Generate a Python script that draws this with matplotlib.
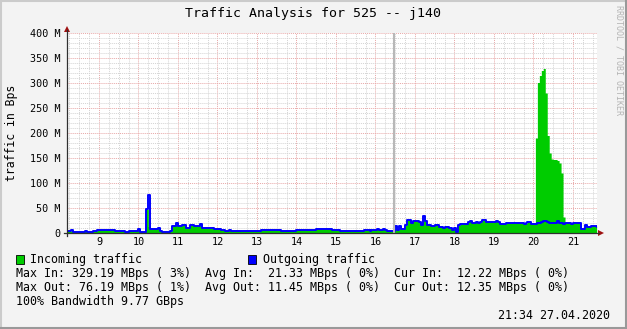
import numpy as np
import matplotlib
matplotlib.use("Agg")
import matplotlib.pyplot as plt
from matplotlib.patches import Rectangle, Polygon
from matplotlib.lines import Line2D

# ---------------- data ----------------
title = "Traffic Analysis for 525 -- j140"
y_label = "traffic in Bps"
watermark = "RRDTOOL / TOBI OETIKER"
timestamp = "21:34 27.04.2020"

hour_start = 8.2          # first sample (hour of day)
hour_step = 0.05          # sample spacing in hours
vrule_hour = 16.48        # grey vertical rule

x_ticks = [9, 10, 11, 12, 13, 14, 15, 16, 17, 18, 19, 20, 21]
x_tick_labels = [str(h) for h in x_ticks]
y_ticks = [0, 50, 100, 150, 200, 250, 300, 350, 400]
y_tick_labels = ["0", "50 M", "100 M", "150 M", "200 M", "250 M", "300 M", "350 M", "400 M"]

# outgoing traffic, MBps
out_mbps = [
    4, 4, 6, 3, 3, 3, 3, 3, 3, 4,
    3, 3, 3, 4, 4, 6, 6, 6, 6, 6,
    6, 6, 7, 6, 4, 4, 4, 4, 4, 2,
    2, 5, 5, 5, 5, 5, 8, 3, 3, 3,
    48, 76, 8, 9, 9, 9, 11, 4, 2, 2,
    3, 3, 4, 15, 15, 21, 14, 14, 17, 17,
    11, 11, 16, 16, 14, 14, 14, 18, 11, 11,
    11, 10, 10, 10, 9, 9, 9, 8, 6, 6,
    5, 5, 7, 5, 5, 5, 5, 5, 5, 5,
    5, 5, 4, 5, 5, 5, 5, 5, 6, 6,
    6, 6, 6, 6, 6, 6, 6, 7, 5, 5,
    5, 5, 5, 5, 5, 5, 6, 7, 6, 6,
    6, 6, 6, 6, 6, 7, 8, 8, 8, 8,
    8, 8, 8, 8, 6, 6, 6, 6, 4, 4,
    4, 4, 4, 4, 4, 5, 4, 4, 4, 4,
    6, 6, 6, 5, 6, 7, 7, 8, 7, 7,
    8, 7, 5, 5, 5, 5, 14, 6, 14, 9,
    9, 16, 27, 27, 21, 25, 25, 25, 23, 17,
    34, 24, 17, 17, 14, 14, 17, 17, 13, 13,
    11, 13, 13, 10, 10, 7, 11, 3, 16, 18,
    18, 19, 19, 23, 24, 21, 21, 22, 21, 22,
    27, 26, 22, 23, 23, 22, 23, 24, 22, 18,
    19, 18, 21, 21, 20, 21, 20, 21, 21, 20,
    21, 19, 20, 22, 22, 18, 18, 19, 21, 21,
    22, 24, 24, 23, 21, 21, 21, 21, 24, 21,
    21, 19, 21, 21, 21, 19, 21, 21, 21, 21,
    9, 9, 16, 13, 13, 15, 15, 14, 12,
]

# incoming traffic, MBps
in_mbps = [
    4, 4, 6, 3, 3, 3, 3, 3, 3, 4,
    3, 3, 3, 4, 4, 6, 6, 6, 6, 6,
    6, 6, 7, 6, 4, 4, 4, 4, 4, 2,
    2, 5, 5, 5, 5, 5, 8, 3, 3, 3,
    47, 13, 8, 9, 9, 9, 11, 4, 2, 2,
    3, 3, 4, 15, 15, 21, 14, 14, 17, 17,
    11, 11, 16, 16, 14, 14, 14, 18, 11, 11,
    11, 10, 10, 10, 9, 9, 9, 8, 6, 6,
    5, 5, 7, 5, 5, 5, 5, 5, 5, 5,
    5, 5, 4, 5, 5, 5, 5, 5, 6, 6,
    6, 6, 6, 6, 6, 6, 6, 7, 5, 5,
    5, 5, 5, 5, 5, 5, 6, 7, 6, 6,
    6, 6, 6, 6, 6, 7, 8, 8, 8, 8,
    8, 8, 8, 8, 6, 6, 6, 6, 4, 4,
    4, 4, 4, 4, 4, 5, 4, 4, 4, 4,
    6, 6, 6, 5, 6, 7, 7, 8, 7, 7,
    8, 7, 5, 5, 5, 5, 14, 6, 14, 9,
    9, 16, 27, 27, 21, 25, 25, 25, 23, 17,
    34, 24, 17, 17, 14, 14, 17, 17, 13, 13,
    11, 13, 13, 10, 10, 7, 11, 3, 16, 18,
    18, 19, 19, 23, 24, 21, 21, 22, 21, 22,
    27, 26, 22, 23, 23, 22, 23, 24, 22, 18,
    19, 18, 21, 21, 20, 21, 20, 21, 21, 20,
    21, 19, 20, 22, 22, 18, 18, 190, 301, 315,
    325, 329, 280, 195, 160, 148, 147, 147, 145, 140,
    120, 32, 21, 21, 21, 19, 21, 21, 21, 21,
    9, 9, 16, 13, 13, 15, 15, 14, 12,
]

legend_labels = ["Incoming traffic", "Outgoing traffic"]
stats_in = ["Max In: 329.19 MBps ( 3%)", "Avg In:  21.33 MBps ( 0%)", "Cur In:  12.22 MBps ( 0%)"]
stats_out = ["Max Out: 76.19 MBps ( 1%)", "Avg Out: 11.45 MBps ( 0%)", "Cur Out: 12.35 MBps ( 0%)"]
bandwidth_text = "100% Bandwidth 9.77 GBps"

# ---------------- style ----------------
GREEN = "#00cc00"
BLUE = "#0000ff"
BG = "#f3f3f3"
MONO = "DejaVu Sans Mono"

W, H = 627, 329
fig = plt.figure(figsize=(W / 100, H / 100), dpi=100, facecolor=BG)


def fx(px):
    return px / W


def fy(py):
    return 1 - py / H


ax = fig.add_axes([fx(67), fy(233), 530 / W, 200 / H])
ax.set_facecolor("white")
ax.set_xlim(8.19, 21.61)
ax.set_ylim(0, 400)
for s in ax.spines.values():
    s.set_visible(False)

ax.set_xticks(x_ticks)
ax.set_xticklabels(x_tick_labels)
ax.set_xticks(np.arange(8.25, 21.61, 0.25), minor=True)
ax.set_yticks(y_ticks)
ax.set_yticklabels(y_tick_labels)
ax.set_yticks(np.arange(0, 401, 10), minor=True)
ax.tick_params(which="both", length=0)
ax.tick_params(axis="y", pad=4.5, labelsize=7.3)
ax.tick_params(axis="x", pad=3.0, labelsize=7.3)
for lab in ax.get_xticklabels() + ax.get_yticklabels():
    lab.set_fontfamily(MONO)

ax.set_axisbelow(True)
ax.grid(which="minor", color="#d4d4d4", linestyle=(0, (1, 1)), linewidth=0.7)
ax.grid(which="major", color="#e8a8a8", linestyle=(0, (1, 1)), linewidth=0.7)

t = hour_start + hour_step * np.arange(len(out_mbps))
ax.fill_between(t, np.array(in_mbps), step="post", color=GREEN, linewidth=0, zorder=2)
ax.step(t, np.array(out_mbps), where="post", color=BLUE, linewidth=1.4, zorder=3)
ax.axvline(vrule_hour, color="#b8b8b8", linewidth=1.5, zorder=4)

# axis lines and arrows
fig.add_artist(Line2D([fx(67), fx(67)], [fy(236), fy(30)], color="#303030", lw=0.9))
fig.add_artist(Line2D([fx(64), fx(599)], [fy(233), fy(233)], color="#303030", lw=0.9))
fig.add_artist(Polygon([[fx(64), fy(32)], [fx(70), fy(32)], [fx(67), fy(26)]],
                       closed=True, transform=fig.transFigure, color="#a01010", lw=0))
fig.add_artist(Polygon([[fx(598), fy(230)], [fx(598), fy(236)], [fx(604), fy(233)]],
                       closed=True, transform=fig.transFigure, color="#a01010", lw=0))

# frame shading
fig.add_artist(Line2D([0, 1], [fy(0.5), fy(0.5)], color="#cbcbcb", lw=1.5))
fig.add_artist(Line2D([fx(0.5), fx(0.5)], [0, 1], color="#cbcbcb", lw=1.5))
fig.add_artist(Line2D([0, 1], [fy(328), fy(328)], color="#999999", lw=1.5))
fig.add_artist(Line2D([fx(626), fx(626)], [0, 1], color="#999999", lw=1.5))

# texts
fig.text(fx(313), fy(13), title, ha="center", va="center", fontsize=9.5, family=MONO, color="black")
fig.text(fx(12), fy(133), y_label, ha="center", va="center", rotation=90, fontsize=8.3, family=MONO)
fig.text(fx(619), fy(5), watermark, ha="center", va="top", rotation=270, fontsize=6,
         family=MONO, color="#b4b4b4")

FS = 8.4
fig.add_artist(Rectangle((fx(16), fy(264)), 8 / W, 9 / H, transform=fig.transFigure,
                         facecolor=GREEN, edgecolor="black", lw=0.6))
fig.text(fx(30), fy(263), legend_labels[0], ha="left", va="baseline", fontsize=FS, family=MONO)
fig.add_artist(Rectangle((fx(248), fy(264)), 8 / W, 9 / H, transform=fig.transFigure,
                         facecolor=BLUE, edgecolor="black", lw=0.6))
fig.text(fx(263), fy(263), legend_labels[1], ha="left", va="baseline", fontsize=FS, family=MONO)

fig.text(fx(16), fy(277), "  ".join(stats_in), ha="left", va="baseline", fontsize=FS, family=MONO)
fig.text(fx(16), fy(291), "  ".join(stats_out), ha="left", va="baseline", fontsize=FS, family=MONO)
fig.text(fx(16), fy(305), bandwidth_text, ha="left", va="baseline", fontsize=FS, family=MONO)
fig.text(fx(610), fy(319), timestamp, ha="right", va="baseline", fontsize=FS, family=MONO)

fig.savefig("out.png", dpi=100, facecolor=BG)
